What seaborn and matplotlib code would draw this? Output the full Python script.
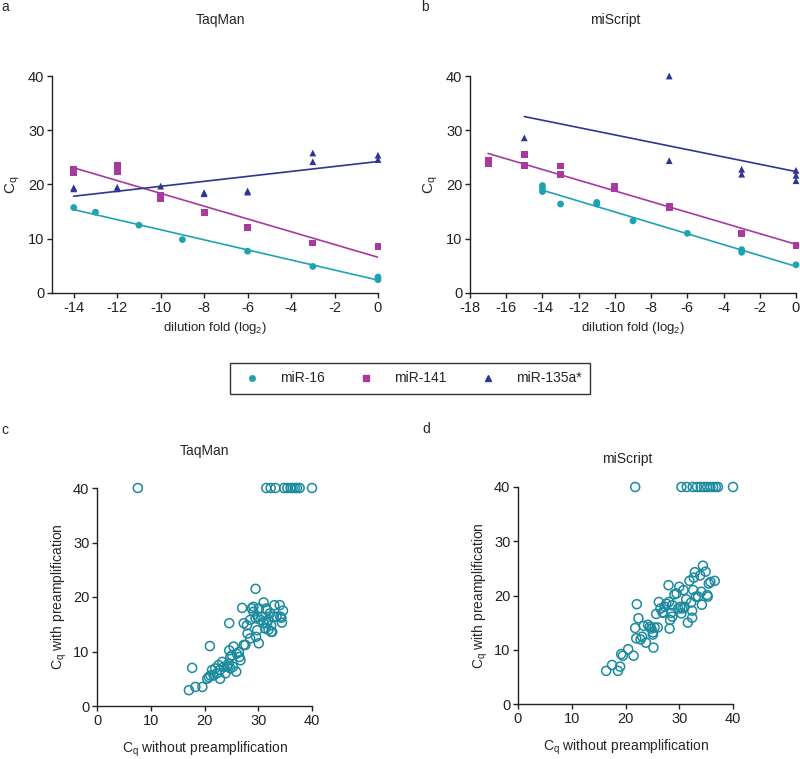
import pandas as pd
import matplotlib
matplotlib.use('Agg')
import matplotlib.pyplot as plt
from matplotlib.lines import Line2D
import seaborn as sns

# --- Panel a: TaqMan dilution series ---
taq16_x = [-14, -13, -11, -9, -6, -3, 0, 0]
taq16_y = [15.75, 14.9, 12.5, 9.85, 7.7, 4.9, 2.95, 2.45]
taq141_x = [-14, -14, -12, -12, -10, -10, -8, -6, -3, 0]
taq141_y = [22.8, 22.2, 23.5, 22.3, 17.9, 17.4, 14.8, 12.1, 9.2, 8.5]
taq135_x = [-14, -14, -12, -12, -10, -8, -8, -6, -6, -3, -3, 0, 0]
taq135_y = [19.4, 19.2, 19.5, 19.2, 19.7, 18.5, 18.3, 18.6, 18.8, 25.8, 24.2, 25.4, 24.6]

# --- Panel b: miScript dilution series ---
mis16_x = [-14, -14, -14, -13, -11, -11, -9, -6, -3, -3, 0]
mis16_y = [19.8, 19.3, 18.7, 16.4, 16.7, 16.4, 13.3, 11.0, 8.0, 7.5, 5.2]
mis141_x = [-17, -17, -15, -15, -13, -13, -10, -10, -7, -7, -3, 0]
mis141_y = [24.5, 23.8, 25.5, 23.5, 23.4, 21.9, 19.6, 19.2, 16.0, 15.7, 11.0, 8.7]
mis135_x = [-15, -7, -7, -3, -3, 0, 0, 0]
mis135_y = [28.6, 40, 24.4, 22.8, 21.9, 22.6, 21.7, 20.7]

# --- Panel c: TaqMan with vs without preamplification ---
taq_wo = [7.6, 31.5, 32.3, 33.2, 34.8, 35.4, 36.0, 36.4, 36.8, 37.2, 37.7, 40.0,
          17.1, 18.3, 19.6, 17.7, 21.0, 20.5, 20.8, 21.4, 21.7, 22.6, 22.9, 22.9,
          23.6, 23.9, 24.8, 24.5, 24.8, 24.6, 24.6, 25.4, 25.1, 26.0, 26.4, 26.7,
          26.5, 27.3, 27.6, 27.0, 27.3, 28.0, 28.5, 28.8, 28.5, 29.1, 29.5, 29.5,
          29.6, 29.8, 30.1, 30.1, 30.4, 30.7, 31.0, 31.0, 31.3, 31.5, 31.6, 31.9,
          31.9, 32.2, 32.4, 32.6, 32.9, 33.0, 33.4, 34.0, 34.1, 34.4, 34.6, 34.3,
          32.4, 27.9, 29.1, 29.9, 31.6, 25.9, 25.3, 22.3, 22.0, 21.1, 23.3, 24.2]
taq_w = [40, 40, 40, 40, 40, 40, 40, 40, 40, 40, 40, 40,
         2.9, 3.5, 3.5, 7.0, 11.0, 5.0, 5.3, 6.6, 5.6, 7.5, 5.0, 6.6,
         7.2, 6.0, 6.9, 7.8, 9.0, 10.2, 15.2, 10.9, 9.3, 9.6, 9.9, 8.4,
         9.0, 11.2, 11.2, 18.0, 15.2, 13.3, 12.4, 17.9, 15.8, 17.3, 21.5, 16.1,
         12.7, 13.9, 11.5, 17.9, 15.8, 16.4, 19.0, 15.2, 14.2, 17.9, 15.2, 15.8,
         14.0, 17.0, 14.8, 13.6, 16.4, 18.5, 16.4, 18.5, 16.4, 15.3, 17.5, 16.2,
         13.6, 14.8, 18.2, 16.4, 17.6, 6.3, 7.2, 6.0, 6.9, 5.6, 8.1, 7.2]

# --- Panel d: miScript with vs without preamplification ---
mis_wo = [21.8, 30.4, 31.4, 32.5, 33.3, 34.0, 34.6, 35.2, 35.8, 36.3, 36.8, 37.2, 40.0,
          16.4, 17.5, 18.6, 19.0, 19.2, 19.5, 20.5, 21.5, 21.8, 22.0, 22.1, 22.4,
          22.8, 23.1, 23.4, 23.8, 24.2, 24.8, 25.1, 25.2, 25.4, 25.7, 26.0, 26.2,
          26.5, 26.9, 27.3, 27.6, 28.0, 28.1, 28.2, 28.3, 28.5, 28.7, 29.1, 29.5,
          29.8, 30.0, 30.2, 30.4, 30.6, 30.8, 31.3, 31.6, 31.9, 32.2, 32.4, 32.4,
          32.6, 32.7, 32.9, 33.1, 33.9, 34.1, 34.2, 34.4, 34.9, 35.2, 35.3, 35.5,
          35.8, 36.6, 33.5, 28.7, 31.0, 27.0, 24.5, 25.1]
mis_w = [40, 40, 40, 40, 40, 40, 40, 40, 40, 40, 40, 40, 40,
         6.1, 7.2, 6.1, 6.9, 9.2, 8.9, 10.1, 8.9, 14.0, 12.1, 18.4, 15.8,
         11.9, 12.4, 14.4, 11.3, 14.6, 13.9, 12.8, 10.4, 14.1, 16.6, 14.1, 18.8,
         17.6, 16.9, 17.9, 18.5, 21.9, 18.8, 13.9, 15.5, 16.8, 16.1, 20.2, 20.4,
         17.6, 21.6, 17.9, 16.7, 17.6, 21.0, 19.3, 15.0, 22.7, 18.7, 15.9, 17.2,
         21.0, 23.3, 24.3, 19.8, 23.7, 20.7, 18.3, 25.5, 24.4, 20.1, 19.8, 22.2,
         22.5, 22.7, 19.8, 18.2, 17.9, 16.8, 14.2, 13.2]

mirs = ['miR-16', 'miR-141', 'miR-135a*']
colors = {'miR-16': '#1ea3b3', 'miR-141': '#a8399f', 'miR-135a*': '#2e3592'}
markers = {'miR-16': 'o', 'miR-141': 's', 'miR-135a*': '^'}
open_color = '#1b8a9e'


def dilution_df(series):
    rows = []
    for mir, (xs, ys) in zip(mirs, series):
        for x, y in zip(xs, ys):
            rows.append({'dil': x, 'cq': y, 'mir': mir})
    return pd.DataFrame(rows)


sns.set_style('ticks')
plt.rcParams['font.family'] = ['Liberation Sans', 'DejaVu Sans']
plt.rcParams['mathtext.default'] = 'regular'
plt.rcParams['axes.unicode_minus'] = False
plt.rcParams['axes.edgecolor'] = '#222222'
plt.rcParams['xtick.color'] = '#222222'
plt.rcParams['ytick.color'] = '#222222'

fig = plt.figure(figsize=(8, 7.59), dpi=100)
W, H = 800, 759


def add_ax(left, top, right, bottom):
    return fig.add_axes([left / W, 1 - bottom / H, (right - left) / W, (bottom - top) / H])


def style_ax(ax):
    sns.despine(ax=ax)
    ax.tick_params(length=3.5, width=1, labelsize=10.5, pad=2)
    for sp in ax.spines.values():
        sp.set_linewidth(1)


ax_a = add_ax(52, 76, 378, 293)
ax_b = add_ax(470, 76, 796, 293)
ax_c = add_ax(97, 488, 312, 706)
ax_d = add_ax(518, 487, 733, 704)

for ax, series, xlim, xticks in [
        (ax_a, [(taq16_x, taq16_y), (taq141_x, taq141_y), (taq135_x, taq135_y)], (-15, 0), range(-14, 1, 2)),
        (ax_b, [(mis16_x, mis16_y), (mis141_x, mis141_y), (mis135_x, mis135_y)], (-18, 0), range(-18, 1, 2))]:
    df = dilution_df(series)
    for mir in mirs:
        sub = df[df['mir'] == mir]
        sns.regplot(data=sub, x='dil', y='cq', scatter=False, ci=None, truncate=True,
                    color=colors[mir], line_kws={'lw': 1.2}, ax=ax)
    sns.scatterplot(data=df, x='dil', y='cq', hue='mir', style='mir', palette=colors,
                    markers=markers, s=24, edgecolor='none', legend=False, ax=ax,
                    clip_on=False, zorder=3)
    ax.set_xlim(*xlim)
    ax.set_ylim(0, 40)
    ax.set_xticks(list(xticks))
    ax.set_yticks([0, 10, 20, 30, 40])
    ax.set_xlabel('dilution fold (log$_2$)', fontsize=9.5, labelpad=4)
    ax.set_ylabel('C$_q$', fontsize=11, labelpad=4)
    style_ax(ax)

for ax, xs, ys in [(ax_c, taq_wo, taq_w), (ax_d, mis_wo, mis_w)]:
    sns.scatterplot(x=xs, y=ys, color=open_color, facecolors='none', edgecolor=open_color,
                    linewidth=1.1, s=42, ax=ax, clip_on=False, zorder=3)
    ax.set_xlim(0, 40)
    ax.set_ylim(0, 40)
    ax.set_xticks([0, 10, 20, 30, 40])
    ax.set_yticks([0, 10, 20, 30, 40])
    ax.set_xlabel('C$_q$ without preamplification', fontsize=10, labelpad=9)
    ax.set_ylabel('C$_q$ with preamplification', fontsize=10, labelpad=3)
    style_ax(ax)

# titles and panel letters
for x, y, txt in [(220, 20, 'TaqMan'), (615, 20, 'miScript'),
                  (205, 451, 'TaqMan'), (627, 459, 'miScript')]:
    fig.text(x / W, 1 - y / H, txt, ha='center', va='center', fontsize=10)
for x, y, txt in [(5, 7, 'a'), (425, 7, 'b'), (5, 430, 'c'), (426, 429, 'd')]:
    fig.text(x / W, 1 - y / H, txt, ha='center', va='center', fontsize=10)

handles = [Line2D([], [], ls='none', marker=markers[m], color=colors[m], markersize=4)
           for m in mirs]
leg = fig.legend(handles, mirs, ncol=3, loc='center', bbox_to_anchor=(410 / W, 1 - 378.5 / H),
                 frameon=True, fancybox=False, edgecolor='black', fontsize=10,
                 columnspacing=2.0, handletextpad=1.0, borderpad=0.6,
                 borderaxespad=0)
leg.get_frame().set_linewidth(1)

fig.savefig('out.png', dpi=100)
